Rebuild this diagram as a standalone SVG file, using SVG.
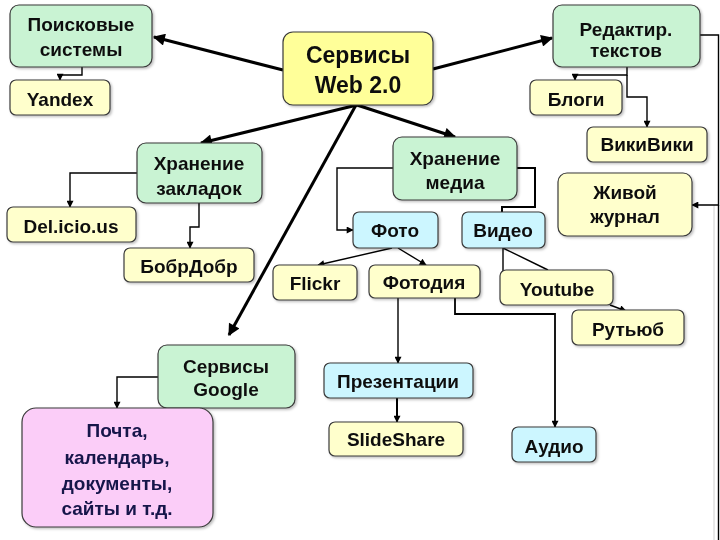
<svg xmlns="http://www.w3.org/2000/svg" width="720" height="540" viewBox="0 0 720 540">
<defs>
<style>
text{font-family:"Liberation Sans",Arial,sans-serif;font-weight:bold;font-size:19px;fill:#111;text-anchor:middle}
.big{font-size:23px}
.navy{fill:#14144a}
.n rect{stroke:#3a3a3a;stroke-width:1.2}
.g{fill:#c9f3d3}
.y{fill:#ffffcc}
.w{fill:#ffff99}
.c{fill:#ccf6ff}
.p{fill:#fbcdf8}
.thick{fill:none;stroke:#000;stroke-width:3}
.thin{fill:none;stroke:#000;stroke-width:1.4}
</style>
<marker id="ah" viewBox="0 0 10 10" refX="9" refY="5" markerWidth="14" markerHeight="12" markerUnits="userSpaceOnUse" orient="auto">
<path d="M0,0 L10,5 L0,10 z" fill="#000"/>
</marker>
<marker id="as" viewBox="0 0 10 10" refX="9" refY="5" markerWidth="8" markerHeight="7" markerUnits="userSpaceOnUse" orient="auto">
<path d="M0,0 L10,5 L0,10 z" fill="#000"/>
</marker>
<filter id="sh" x="-10%" y="-10%" width="130%" height="130%">
<feDropShadow dx="1.5" dy="1.5" stdDeviation="1" flood-color="#000" flood-opacity="0.25"/>
</filter>
</defs>
<rect x="0" y="0" width="720" height="540" fill="#fff"/>
<line x1="714" y1="205" x2="714" y2="540" stroke="#d0d0d0" stroke-width="1"/>
<line x1="718.5" y1="205" x2="718.5" y2="540" stroke="#000" stroke-width="1.4"/>

<g id="connectors">
<line class="thick" x1="283" y1="70" x2="154" y2="37" marker-end="url(#ah)"/>
<line class="thick" x1="433" y1="69" x2="552" y2="38" marker-end="url(#ah)"/>
<line class="thick" x1="357" y1="105" x2="201" y2="143" marker-end="url(#ah)"/>
<line class="thick" x1="357" y1="105" x2="455" y2="137" marker-end="url(#ah)"/>
<line class="thick" x1="356" y1="105" x2="229" y2="335" marker-end="url(#ah)"/>
<path class="thin" d="M82,67 V75 H60 V80" marker-end="url(#as)"/>
<path class="thin" d="M627,67 V75 H575 V80" marker-end="url(#as)"/>
<path class="thin" d="M627,75 V97 H647 V127" marker-end="url(#as)"/>
<path class="thin" d="M700,35 H718.5 V205 H692" marker-end="url(#as)"/>
<path class="thin" d="M137,173 H70 V207" marker-end="url(#as)"/>
<path class="thin" d="M199,203 V227 H190 V248" marker-end="url(#as)"/>
<path class="thin" d="M393,168 H337 V230 H353" marker-end="url(#as)"/>
<path class="thick" d="M517,168 H535 V207 H502 V212" style="stroke-width:2"/>
<line class="thin" x1="392" y1="248" x2="318" y2="265" marker-end="url(#as)"/>
<line class="thin" x1="398" y1="248" x2="426" y2="265" marker-end="url(#as)"/>
<path class="thin" d="M503,248 V288" marker-end="url(#as)"/>
<line class="thin" x1="503" y1="248" x2="548" y2="270"/>
<line class="thin" x1="610" y1="305" x2="626" y2="311" marker-end="url(#as)"/>
<path class="thin" d="M398,298 V363" marker-end="url(#as)"/>
<path class="thin" d="M455,298 V314 H555 V427" style="stroke-width:1.8" marker-end="url(#as)"/>
<path class="thin" d="M397,398 V422" style="stroke-width:2" marker-end="url(#as)"/>
<path class="thin" d="M158,377 H117 V408" marker-end="url(#as)"/>
</g>

<g id="web20" class="n" filter="url(#sh)"><rect class="w" x="283" y="32" width="150" height="73" rx="10"/>
<text class="big" x="358" y="63">Сервисы</text><text class="big" x="358" y="93">Web 2.0</text></g>
<g id="poisk" class="n" filter="url(#sh)"><rect class="g" x="10" y="5" width="142" height="62" rx="9"/>
<text x="81" y="31">Поисковые</text><text x="81" y="56">системы</text></g>
<g id="yandex" class="n" filter="url(#sh)"><rect class="y" x="10" y="80" width="100" height="35" rx="6"/>
<text x="60" y="106">Yandex</text></g>
<g id="redaktir" class="n" filter="url(#sh)"><rect class="g" x="553" y="5" width="147" height="62" rx="9"/>
<text x="626" y="36">Редактир.</text><text x="626" y="57">текстов</text></g>
<g id="blogi" class="n" filter="url(#sh)"><rect class="y" x="530" y="80" width="92" height="35" rx="6"/>
<text x="576" y="106">Блоги</text></g>
<g id="wiki" class="n" filter="url(#sh)"><rect class="y" x="587" y="127" width="120" height="35" rx="6"/>
<text x="647" y="151">ВикиВики</text></g>
<g id="zhivoy" class="n" filter="url(#sh)"><rect class="y" x="558" y="173" width="134" height="63" rx="9"/>
<text x="625" y="199">Живой</text><text x="625" y="223">журнал</text></g>
<g id="zakladki" class="n" filter="url(#sh)"><rect class="g" x="137" y="143" width="125" height="60" rx="9"/>
<text x="199" y="170">Хранение</text><text x="199" y="195">закладок</text></g>
<g id="delicious" class="n" filter="url(#sh)"><rect class="y" x="7" y="207" width="129" height="35" rx="6"/>
<text x="71" y="233">Del.icio.us</text></g>
<g id="bobrdobr" class="n" filter="url(#sh)"><rect class="y" x="124" y="248" width="130" height="34" rx="6"/>
<text x="189" y="273">БобрДобр</text></g>
<g id="media" class="n" filter="url(#sh)"><rect class="g" x="393" y="137" width="124" height="63" rx="9"/>
<text x="455" y="165">Хранение</text><text x="455" y="189">медиа</text></g>
<g id="foto" class="n" filter="url(#sh)"><rect class="c" x="353" y="212" width="85" height="36" rx="6"/>
<text x="395" y="237">Фото</text></g>
<g id="video" class="n" filter="url(#sh)"><rect class="c" x="462" y="212" width="83" height="36" rx="6"/>
<text x="503" y="237">Видео</text></g>
<g id="flickr" class="n" filter="url(#sh)"><rect class="y" x="273" y="265" width="84" height="35" rx="6"/>
<text x="315" y="290">Flickr</text></g>
<g id="fotodia" class="n" filter="url(#sh)"><rect class="y" x="369" y="265" width="111" height="33" rx="6"/>
<text x="424" y="289">Фотодия</text></g>
<g id="youtube" class="n" filter="url(#sh)"><rect class="y" x="500" y="270" width="113" height="35" rx="6"/>
<text x="557" y="296">Youtube</text></g>
<g id="rutube" class="n" filter="url(#sh)"><rect class="y" x="572" y="310" width="112" height="35" rx="6"/>
<text x="628" y="336">Рутьюб</text></g>
<g id="google" class="n" filter="url(#sh)"><rect class="g" x="158" y="345" width="137" height="63" rx="9"/>
<text x="226" y="373">Сервисы</text><text x="226" y="396">Google</text></g>
<g id="pochta" class="n" filter="url(#sh)"><rect class="p" x="22" y="408" width="191" height="119" rx="14"/>
<text class="navy" x="117" y="437">Почта,</text><text class="navy" x="117" y="464">календарь,</text><text class="navy" x="117" y="490">документы,</text><text class="navy" x="117" y="515">сайты и т.д.</text></g>
<g id="prezent" class="n" filter="url(#sh)"><rect class="c" x="324" y="363" width="149" height="35" rx="6"/>
<text x="398" y="388">Презентации</text></g>
<g id="slideshare" class="n" filter="url(#sh)"><rect class="y" x="329" y="422" width="134" height="34" rx="6"/>
<text x="396" y="446">SlideShare</text></g>
<g id="audio" class="n" filter="url(#sh)"><rect class="c" x="512" y="427" width="84" height="35" rx="6"/>
<text x="554" y="453">Аудио</text></g>
</svg>
